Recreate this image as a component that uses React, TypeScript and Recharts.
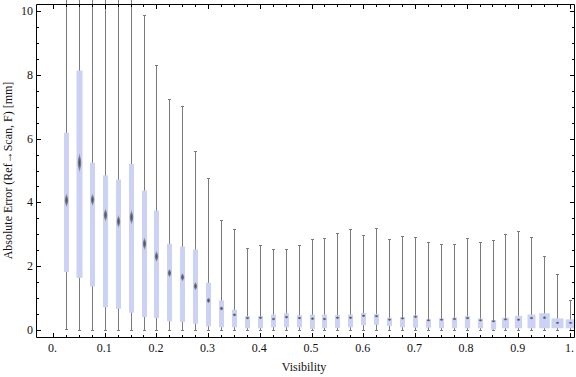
import React from 'react';
import { ComposedChart, Bar, Line, XAxis, YAxis } from 'recharts';

// box-whisker statistics per visibility bin
const visibility = [
  0.025, 0.05, 0.075, 0.1, 0.125, 0.15, 0.175, 0.2, 0.225, 0.25,
  0.275, 0.3, 0.325, 0.35, 0.375, 0.4, 0.425, 0.45, 0.475, 0.5,
  0.525, 0.55, 0.575, 0.6, 0.625, 0.65, 0.675, 0.7, 0.725, 0.75,
  0.775, 0.8, 0.825, 0.85, 0.875, 0.9, 0.925, 0.95, 0.975, 1.0,
];
const whiskerLow = [
  0.03, 0, 0, 0, 0, 0, 0, 0, 0, 0,
  0, 0, 0, 0, 0, 0, 0, 0, 0, 0,
  0, 0, 0, 0, 0, 0, 0, 0, 0, 0,
  0, 0, 0, 0, 0, 0, 0, 0, 0, 0,
];
const lowerQuartile = [
  1.83, 1.65, 1.38, 0.73, 0.68, 0.56, 0.42, 0.39, 0.29, 0.26,
  0.21, 0.13, 0.1, 0.1, 0.07, 0.07, 0.1, 0.1, 0.1, 0.05,
  0.08, 0.08, 0.1, 0.17, 0.18, 0.14, 0.1, 0.09, 0.09, 0.07,
  0.07, 0.07, 0.07, 0.03, 0.07, 0.07, 0.07, 0.07, 0.07, 0.07,
];
const median = [
  4.08, 5.26, 4.1, 3.62, 3.42, 3.55, 2.72, 2.32, 1.8, 1.67,
  1.39, 0.94, 0.69, 0.49, 0.39, 0.4, 0.36, 0.42, 0.39, 0.37,
  0.36, 0.4, 0.4, 0.46, 0.45, 0.34, 0.38, 0.43, 0.32, 0.34,
  0.36, 0.39, 0.32, 0.29, 0.35, 0.34, 0.39, 0.4, 0.24, 0.24,
];
const upperQuartile = [
  6.2, 8.15, 5.26, 4.86, 4.73, 5.22, 4.39, 3.76, 2.72, 2.63,
  2.54, 1.5, 0.94, 0.65, 0.45, 0.45, 0.5, 0.54, 0.48, 0.5,
  0.5, 0.48, 0.5, 0.55, 0.52, 0.4, 0.42, 0.48, 0.35, 0.38,
  0.41, 0.46, 0.38, 0.33, 0.4, 0.46, 0.5, 0.54, 0.38, 0.35,
];
const whiskerHigh = [
  11.5, 12.0, 11.5, 11.0, 11.0, 11.0, 9.87, 8.3, 7.25, 7.01,
  5.61, 4.75, 3.45, 3.16, 2.56, 2.65, 2.53, 2.53, 2.65, 2.84,
  2.87, 3.03, 3.16, 2.97, 3.19, 2.84, 2.94, 2.91, 2.76, 2.71,
  2.71, 2.87, 2.75, 2.81, 3.0, 3.1, 2.91, 2.31, 1.75, 0.94,
];
// relative box width per bin
const boxWeight = [
  1, 1.2, 1, 1, 1, 1, 1, 1, 1, 1,
  1, 1, 1, 1, 1, 1, 1, 1, 1, 1,
  1, 1, 1, 1, 1, 1, 1, 1, 1, 1,
  1.05, 1.05, 1.05, 1.05, 1.4, 1.45, 1.6, 2.1, 2.4, 1.9,
];

const xTicks = [
  0, 0.025, 0.05, 0.075, 0.1, 0.125, 0.15, 0.175, 0.2, 0.225,
  0.25, 0.275, 0.3, 0.325, 0.35, 0.375, 0.4, 0.425, 0.45, 0.475,
  0.5, 0.525, 0.55, 0.575, 0.6, 0.625, 0.65, 0.675, 0.7, 0.725,
  0.75, 0.775, 0.8, 0.825, 0.85, 0.875, 0.9, 0.925, 0.95, 0.975, 1.0,
];
const xMajorTicks = [0, 0.1, 0.2, 0.3, 0.4, 0.5, 0.6, 0.7, 0.8, 0.9, 1.0];
const xMajorLabels = ['0.', '0.1', '0.2', '0.3', '0.4', '0.5', '0.6', '0.7', '0.8', '0.9', '1.'];
const yTicks = [
  0, 0.5, 1, 1.5, 2, 2.5, 3, 3.5, 4, 4.5, 5,
  5.5, 6, 6.5, 7, 7.5, 8, 8.5, 9, 9.5, 10,
];
const yMajorTicks = [0, 2, 4, 6, 8, 10];
const yMajorLabels = ['0', '2', '4', '6', '8', '10'];

const rows = visibility.map((v, i) => ({
  visibility: v,
  min: whiskerLow[i],
  q1: lowerQuartile[i],
  median: median[i],
  q3: upperQuartile[i],
  max: whiskerHigh[i],
  weight: boxWeight[i],
}));

const W = 576;
const H = 377;
const M_TOP = 3.5;
const M_RIGHT = 0.5;
const Y_AXIS_W = 36.5;
const X_AXIS_H = 39.5;
const X_DOMAIN = [-0.0329, 1.0077];
const Y_DOMAIN = [-0.22, 10.22];

const FONT = '"Liberation Serif", "Times New Roman", serif';
const FRAME = '#000';
const TEXT = '#111';
const BOX = '#cbd2f5';
const WHISKER = '#7b7b7b';
const BASE_BOX = 5;

const crisp = (v: number) => Math.round(v - 0.5) + 0.5;
const majorIndex = (list: number[], v: number) => list.findIndex((t) => Math.abs(t - v) < 1e-6);

function BoxWhisker(props: any) {
  const { x, y, width, height, payload, index } = props;
  if (!payload || !isFinite(x) || !isFinite(y) || !height) return null;
  const top = Math.min(y, y + height);
  const h = Math.abs(height);
  const iqr = payload.q3 - payload.q1;
  const k = h / iqr;
  const yOf = (v: number) => top + (payload.q3 - v) * k;
  const cx = crisp(x + width / 2);
  const bw = BASE_BOX * payload.weight;
  const yMax = crisp(yOf(payload.max));
  const yMin = crisp(yOf(payload.min));
  const yMed = yOf(payload.median);
  const hh = 1.2 + 0.045 * iqr * k;
  const hw = 2.2;
  const gid = `med-grad-${index}`;
  return (
    <g>
      <defs>
        <radialGradient id={gid} cx="50%" cy="50%" r="50%">
          <stop offset="0%" stopColor="#4d4d4d" stopOpacity={1} />
          <stop offset="55%" stopColor="#6c6e80" stopOpacity={0.85} />
          <stop offset="100%" stopColor="#9aa0c4" stopOpacity={0.25} />
        </radialGradient>
      </defs>
      <line x1={cx} x2={cx} y1={yMax} y2={yMin} stroke={WHISKER} strokeWidth={1} />
      <line x1={cx - 1.5} x2={cx + 1.5} y1={yMax} y2={yMax} stroke={WHISKER} strokeWidth={1} />
      <line x1={cx - 1.5} x2={cx + 1.5} y1={yMin} y2={yMin} stroke={WHISKER} strokeWidth={1} />
      <rect x={cx - bw / 2} y={top} width={bw} height={h} fill={BOX} />
      <path
        d={`M${cx},${yMed - hh} L${cx + hw},${yMed} L${cx},${yMed + hh} L${cx - hw},${yMed} Z`}
        fill={`url(#${gid})`}
      />
    </g>
  );
}

function BottomTick(props: any) {
  const { x, y, payload } = props;
  const idx = majorIndex(xMajorTicks, payload.value);
  const px = crisp(x);
  return (
    <g>
      <line x1={px} x2={px} y1={y} y2={y - (idx >= 0 ? 4.5 : 2.5)} stroke={FRAME} strokeWidth={1} />
      {idx >= 0 && (
        <text x={x - 1} y={y + 14} textAnchor="middle" fontSize={12} fontFamily={FONT} fill={TEXT}>
          {xMajorLabels[idx]}
        </text>
      )}
    </g>
  );
}

function TopTick(props: any) {
  const { x, y, payload } = props;
  const major = majorIndex(xMajorTicks, payload.value) >= 0;
  const px = crisp(x);
  return <line x1={px} x2={px} y1={y} y2={y + (major ? 4.5 : 2.5)} stroke={FRAME} strokeWidth={1} />;
}

function LeftTick(props: any) {
  const { x, y, payload } = props;
  const idx = majorIndex(yMajorTicks, payload.value);
  const py = crisp(y);
  return (
    <g>
      <line x1={x} x2={x + (idx >= 0 ? 4.5 : 2.5)} y1={py} y2={py} stroke={FRAME} strokeWidth={1} />
      {idx >= 0 && (
        <text x={x - 3.5} y={py + 3.5} textAnchor="end" fontSize={12} fontFamily={FONT} fill={TEXT}>
          {yMajorLabels[idx]}
        </text>
      )}
    </g>
  );
}

function RightTick(props: any) {
  const { x, y, payload } = props;
  const major = majorIndex(yMajorTicks, payload.value) >= 0;
  const py = crisp(y);
  return <line x1={x} x2={x - (major ? 4.5 : 2.5)} y1={py} y2={py} stroke={FRAME} strokeWidth={1} />;
}

const plotTop = M_TOP + 1;
const plotBottom = H - X_AXIS_H;

const YTitle = () => {
  const cy = (plotTop + plotBottom) / 2 - 0.5;
  const bx = 11.5;
  return (
    <text
      x={bx}
      y={cy}
      transform={`rotate(-90, ${bx}, ${cy})`}
      textAnchor="middle"
      fontSize={12}
      fontFamily={FONT}
      fill={TEXT}
    >
      Absolute Error (Ref→Scan, F) [mm]
    </text>
  );
};

const XTitle = () => (
  <text x={304} y={371} textAnchor="middle" fontSize={12} fontFamily={FONT} fill={TEXT}>
    Visibility
  </text>
);

export default function App() {
  return (
    <div style={{ position: 'absolute', left: 0, top: 0, width: W, height: H, background: '#fff' }}>
      <style>{`.recharts-bar-rectangles, .recharts-bar [clip-path] { clip-path: none !important; }`}</style>
      <ComposedChart
        width={W}
        height={H}
        data={rows}
        margin={{ top: M_TOP, right: M_RIGHT, bottom: 0, left: 0 }}
        style={{ fontFamily: FONT }}
      >
        <XAxis
          dataKey="visibility"
          type="number"
          domain={X_DOMAIN}
          allowDataOverflow
          ticks={xTicks}
          interval={0}
          height={X_AXIS_H}
          tickSize={0}
          tickMargin={0}
          tickLine={false}
          axisLine={{ stroke: FRAME, strokeWidth: 1 }}
          tick={(p: any) => <BottomTick {...p} />}
          label={{ content: () => <XTitle /> }}
        />
        <XAxis
          xAxisId="top"
          dataKey="visibility"
          orientation="top"
          type="number"
          domain={X_DOMAIN}
          allowDataOverflow
          ticks={xTicks}
          interval={0}
          height={1}
          tickSize={0}
          tickMargin={0}
          tickLine={false}
          axisLine={{ stroke: FRAME, strokeWidth: 1 }}
          tick={(p: any) => <TopTick {...p} />}
        />
        <YAxis
          type="number"
          domain={Y_DOMAIN}
          allowDataOverflow
          ticks={yTicks}
          interval={0}
          width={Y_AXIS_W}
          tickSize={0}
          tickMargin={0}
          tickLine={false}
          axisLine={{ stroke: FRAME, strokeWidth: 1 }}
          tick={(p: any) => <LeftTick {...p} />}
          label={{ content: () => <YTitle /> }}
        />
        <YAxis
          yAxisId="right"
          orientation="right"
          type="number"
          domain={Y_DOMAIN}
          allowDataOverflow
          ticks={yTicks}
          interval={0}
          width={1}
          tickSize={0}
          tickMargin={0}
          tickLine={false}
          axisLine={{ stroke: FRAME, strokeWidth: 1 }}
          tick={(p: any) => <RightTick {...p} />}
        />
        <Bar
          dataKey={(d: any) => [d.q1, d.q3]}
          barSize={BASE_BOX}
          isAnimationActive={false}
          shape={(p: any) => <BoxWhisker {...p} />}
        />
        {/* invisible series so the mirrored frame axes are laid out */}
        <Line
          xAxisId="top"
          yAxisId="right"
          dataKey="median"
          stroke="none"
          dot={false}
          activeDot={false}
          legendType="none"
          isAnimationActive={false}
        />
      </ComposedChart>
    </div>
  );
}
